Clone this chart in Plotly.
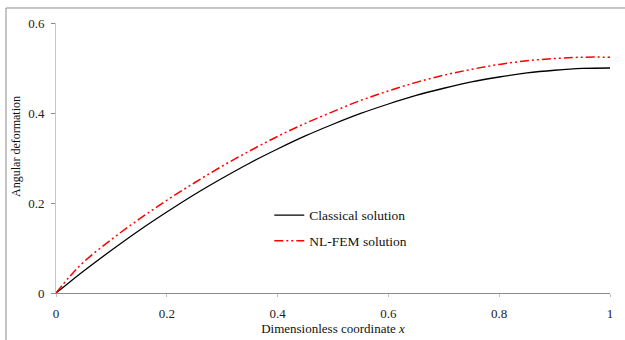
import plotly.graph_objects as go

x_vals = [0, 0.025, 0.05, 0.1, 0.15, 0.2, 0.25, 0.3, 0.35, 0.4, 0.45, 0.5,
          0.55, 0.6, 0.65, 0.7, 0.75, 0.8, 0.85, 0.9, 0.95, 1.0]
classical = [0, 0.0247, 0.0488, 0.095, 0.139, 0.18, 0.219, 0.255, 0.289, 0.32, 0.349, 0.375,
             0.399, 0.42, 0.439, 0.455, 0.469, 0.48, 0.489, 0.495, 0.499, 0.5]
nlfem = [0, 0.037, 0.069, 0.119, 0.164, 0.206, 0.245, 0.282, 0.316, 0.348, 0.377, 0.403,
         0.428, 0.449, 0.468, 0.484, 0.497, 0.508, 0.516, 0.521, 0.524, 0.524]

x_ticks = [0, 0.2, 0.4, 0.6, 0.8, 1]
x_labels = ["0", "0.2", "0.4", "0.6", "0.8", "1"]
y_ticks = [0, 0.2, 0.4, 0.6]
y_labels = ["0", "0.2", "0.4", "0.6"]

font_family = "Liberation Serif"

fig = go.Figure()
fig.add_trace(go.Scatter(x=x_vals, y=classical, mode="lines", name="Classical solution",
                         line=dict(color="black", width=1.3), line_shape="spline",
                         legendgroup="a"))
fig.add_trace(go.Scatter(x=x_vals, y=nlfem, mode="lines", name="NL-FEM solution",
                         line=dict(color="#ff0000", width=1.5, dash="9px,3px,2px,3px,2px,3px"),
                         line_shape="spline", legendgroup="b"))

fig.update_layout(
    width=625, height=340,
    margin=dict(l=56, r=15, t=23, b=47),
    paper_bgcolor="white", plot_bgcolor="white",
    font=dict(family=font_family, size=13, color="#222"),
    showlegend=True,
    legend=dict(x=0.385, y=0.345, xanchor="left", yanchor="top",
                bgcolor="rgba(0,0,0,0)", font=dict(family=font_family, size=13.5, color="#111"),
                tracegroupgap=5),
    xaxis=dict(range=[0, 1], tickvals=x_ticks, ticktext=x_labels, automargin=False,
               showgrid=False, zeroline=False, showline=True, linecolor="#8c8c8c", linewidth=1,
               ticks="outside", ticklen=3, tickcolor="#bfbfbf", ticklabelstandoff=5,
               title=dict(text="Dimensionless coordinate <i>x</i>", standoff=4,
                          font=dict(family=font_family, size=13, color="#111"))),
    yaxis=dict(range=[0, 0.6], tickvals=y_ticks, ticktext=y_labels, automargin=False,
               showgrid=False, zeroline=False, showline=True, linecolor="#c8c8c8", linewidth=1,
               ticks="outside", ticklen=4, tickcolor="#8c8c8c", ticklabelstandoff=4),
    annotations=[dict(text="Angular deformation", xref="paper", yref="paper",
                      x=-0.0722, y=0.541, xanchor="center", yanchor="middle",
                      textangle=-90, showarrow=False,
                      font=dict(family=font_family, size=12, color="#111"))],
    shapes=[dict(type="rect", xref="paper", yref="paper",
                 x0=-0.0903, x1=1.2, y0=-0.5, y1=1.0556,
                 line=dict(color="#8c8c8c", width=1), fillcolor="rgba(0,0,0,0)", layer="below")],
)

fig.write_html("out.html")
